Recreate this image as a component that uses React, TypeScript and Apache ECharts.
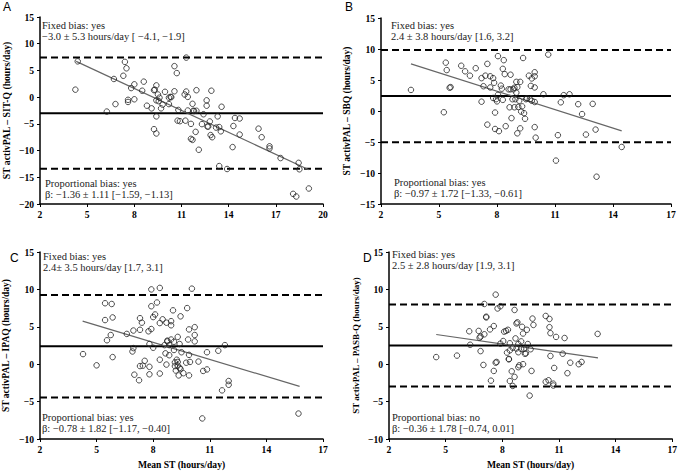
import React, { useEffect, useRef } from "react";
import * as echarts from "echarts";

// ---------- data ----------
const xTicksA = [2, 5, 8, 11, 14, 17, 20];
const xTicksOther = [2, 5, 8, 11, 14, 17];

const pointsA: number[][] = [
  [4.4, 6.7], [4.25, 1.4], [6.25, -2.7], [6.7, 3.4], [6.8, -1.3], [7.3, 4.0], [7.4, 6.6], [7.5, 5.4],
  [7.6, -0.5], [7.6, -0.9], [7.8, 1.7], [8.0, 2.4], [8.0, -0.4], [8.5, 1.2], [8.6, 2.9], [8.8, -1.6],
  [9.1, -2.1], [9.25, 1.3], [9.3, 1.4], [9.25, -6.0], [9.4, -6.8], [9.4, -3.6], [9.4, 2.2], [9.4, -0.6],
  [9.5, 0.5], [9.55, -0.75], [9.6, -0.1], [9.7, -2.1], [9.8, -1.4], [9.95, 1.0], [10.2, -0.1], [10.2, -1.3],
  [10.3, 0.05], [10.35, 0], [10.55, 1.1], [10.55, 5.8], [10.7, 4.5], [10.8, -2.4], [10.75, -4.4], [10.9, -4.5],
  [11.2, 0.5], [11.3, 7.4], [11.25, -4.4], [11.3, 1.05], [11.4, 0.05], [11.4, -2.5], [11.6, -5.0], [11.6, -7.8],
  [11.7, -1.25], [11.75, -2.55], [11.7, -8.0], [11.8, -2.6], [11.95, 1.3], [11.95, -2.55], [11.9, -6.5], [12.1, -9.85],
  [12.3, -5.05], [12.4, -3.2], [12.6, -0.6], [12.6, -1.6], [12.65, -5.5], [12.7, -5.5], [12.8, -4.55], [12.85, -7.1],
  [12.9, 1.2], [12.95, -7.5], [13.2, -5.7], [13.3, -3.6], [13.4, -5.6], [13.5, -6.4], [13.55, -1.8], [13.4, -12.9],
  [13.9, -13.45], [14.25, -9.35], [14.3, -5.4], [14.4, -3.9], [14.7, -4.0], [14.7, -7.0], [15.9, -5.9], [16.1, -7.5],
  [16.6, -9.6], [16.6, -9.2], [17.3, -11.4], [18.1, -18.1], [18.3, -18.6], [18.45, -12.3], [18.5, -13.5], [19.1, -17.1],
];
const regA = [[4.3, 6.7], [19.1, -13.6]];
const meanA = -3.0;
const loaA = [7.4, -13.4];

const pointsB: number[][] = [
  [3.55, 3.4], [5.25, -0.2], [5.35, 7.8], [5.4, 6.6], [5.55, 3.75], [5.6, 3.85], [6.15, 7.3], [6.35, 6.4],
  [6.6, 5.7], [6.9, 6.9], [7.2, 5.3], [7.2, 1.5], [7.3, 4.0], [7.4, 5.7], [7.5, -2.2], [7.5, 7.6],
  [7.65, 5.6], [7.65, 3.8], [7.8, 5.3], [7.85, 4.55], [7.9, -0.25], [7.8, 2.1], [7.9, -2.9], [7.95, 1.9],
  [8.0, 1.55], [8.05, 8.85], [8.05, 2.6], [8.1, -3.25], [8.2, 4.1], [8.25, 3.6], [8.3, 1.8], [8.3, 6.8],
  [8.35, 8.2], [8.4, 5.95], [8.45, -2.45], [8.6, 3.5], [8.65, 0.6], [8.7, 5.85], [8.7, 3.5], [8.75, -1.15],
  [8.8, 1.9], [8.85, 3.5], [8.9, 0.6], [8.9, 3.75], [8.95, 1.9], [9.0, 4.7], [9.0, 2.95], [9.05, 3.85],
  [9.05, -3.6], [9.1, 0.65], [9.15, 1.65], [9.2, 4.7], [9.2, -2.8], [9.25, -0.1], [9.3, 0.75], [9.35, 8.55],
  [9.4, -0.35], [9.45, -1.25], [9.5, 1.9], [9.55, 2.05], [9.65, 5.7], [9.7, 1.9], [9.75, 4.05], [9.8, 5.25],
  [9.8, 1.65], [9.95, 1.45], [9.95, 6.25], [9.95, 5.6], [9.95, 3.8], [9.95, -2.6], [10.0, -4.3], [10.4, 2.7],
  [10.65, 9.1], [11.05, -8.0], [11.15, -3.9], [11.3, 1.4], [11.45, 2.55], [11.75, 2.7], [12.2, 1.1], [12.4, -0.5],
  [12.6, -3.8], [12.95, 1.15], [13.1, -3.0], [13.15, -10.6], [14.45, -5.8],
];
const regB = [[3.55, 7.6], [14.45, -3.2]];
const meanB = 2.4;
const loaB = [9.85, -5.05];

const pointsC: number[][] = [
  [4.28, 1.35], [5.0, -0.15], [5.45, 8.15], [5.45, 5.9], [5.55, 3.2], [5.75, 3.9], [5.8, 8.05], [5.85, 6.25],
  [5.85, 0.95], [6.6, 4.05], [6.9, 1.7], [6.95, 4.5], [6.95, 2.15], [7.0, -1.4], [7.25, -2.15], [7.3, 4.6],
  [7.3, 6.15], [7.3, -0.25], [7.4, 5.55], [7.45, -0.2], [7.55, 0.45], [7.75, 4.4], [7.8, -0.35], [7.8, -1.35],
  [7.8, 2.7], [7.9, 7.75], [7.9, 4.7], [7.9, 10.0], [8.0, 2.2], [8.0, 6.3], [8.1, 6.65], [8.2, 8.25],
  [8.35, 5.5], [8.35, 10.2], [8.35, -1.25], [8.35, 0.6], [8.5, 6.0], [8.6, 2.55], [8.65, 1.45], [8.7, 5.55],
  [8.7, -0.05], [8.75, 3.05], [8.75, 3.15], [8.85, 1.2], [8.85, 2.55], [8.95, 5.75], [8.95, 5.2], [8.95, 3.3],
  [9.05, 7.2], [9.1, 3.0], [9.1, 1.9], [9.15, 0.25], [9.15, -0.25], [9.2, -0.85], [9.25, 0.6], [9.3, 3.65],
  [9.3, -0.2], [9.3, 0.3], [9.35, -1.5], [9.4, -0.5], [9.4, 2.7], [9.45, -0.65], [9.45, 6.4], [9.5, 1.6],
  [9.6, -1.2], [9.75, 0.2], [9.8, 7.5], [9.85, 3.3], [9.9, 4.65], [9.9, -1.5], [9.9, 1.25], [9.95, 0.3],
  [10.05, 10.1], [10.2, 3.9], [10.2, 4.95], [10.2, 3.05], [10.4, 0.35], [10.6, -7.25], [10.65, -0.9], [10.85, -0.7],
  [10.85, 1.6], [11.45, 1.8], [11.65, -3.5], [11.8, 2.55], [12.0, -2.25], [12.0, -2.75], [15.7, -6.6],
];
const regC = [[4.26, 5.75], [15.76, -2.97]];
const meanC = 2.4;
const loaC = [9.26, -4.46];

const pointsD: number[][] = [
  [4.5, 0.95], [5.6, 1.15], [6.25, 4.4], [6.3, 2.6], [6.75, 4.45], [6.8, 3.55], [6.85, 3.7], [6.85, 1.75],
  [7.0, -0.1], [7.05, 4.0], [7.05, 8.05], [7.15, 6.25], [7.15, 6.35], [7.35, 4.65], [7.4, -2.2], [7.55, 5.1],
  [7.55, -0.9], [7.65, 0.2], [7.7, 0.3], [7.65, 9.3], [7.75, 7.45], [7.9, 7.75], [7.9, 2.75], [8.05, 3.1],
  [8.1, 4.35], [8.2, 4.45], [8.25, 1.55], [8.3, 4.6], [8.35, 0.7], [8.35, 0.65], [8.4, -2.25], [8.4, 2.8],
  [8.4, 1.85], [8.5, -0.95], [8.55, 2.2], [8.55, -2.9], [8.65, -1.7], [8.65, 7.25], [8.7, 3.45], [8.75, 2.1],
  [8.75, 5.45], [8.8, 5.6], [8.85, 1.6], [8.85, 2.7], [8.85, -0.4], [8.9, -0.15], [9.0, 3.05], [9.0, 2.05],
  [9.05, 5.0], [9.1, 0.0], [9.1, 4.1], [9.15, 2.05], [9.2, 1.4], [9.25, 1.45], [9.3, 4.6], [9.35, 2.7],
  [9.45, -4.2], [9.5, 2.0], [9.55, -0.9], [9.6, 6.1], [9.65, 5.25], [10.3, 6.45], [10.3, -2.35], [10.45, -2.15],
  [10.5, 4.95], [10.5, 6.05], [10.55, 4.15], [10.55, 1.1], [10.7, -2.6], [10.7, -2.85], [10.75, -0.5], [10.85, 3.65],
  [11.2, 1.4], [11.3, 3.5], [11.45, -1.2], [11.6, 0.2], [12.05, 0.0], [12.2, 0.3], [13.05, 4.05],
];
const regD = [[4.5, 3.97], [13.07, 0.85]];
const meanD = 2.5;
const loaD = [7.99, -2.99];

const yNames = [
  "ST activPAL – SIT-Q (hours/day)",
  "ST activPAL – SBQ (hours/day)",
  "ST activPAL – IPAQ (hours/day)",
  "ST activPAL – PASB-Q (hours/day)",
];
const xName = "Mean ST (hours/day)";
const panelLetters = ["A", "B", "C", "D"];
const fixedLines = [
  ["Fixed bias: yes", "−3.0 ± 5.3 hours/day [ −4.1, −1.9]"],
  ["Fixed bias: yes", "2.4 ± 3.8 hours/day [1.6, 3.2]"],
  ["Fixed bias: yes", "2.4± 3.5 hours/day [1.7, 3.1]"],
  ["Fixed bias: yes", "2.5 ± 2.8 hours/day [1.9, 3.1]"],
];
const propLines = [
  ["Proportional bias: yes", "β: −1.36 ± 1.11 [−1.59, −1.13]"],
  ["Proportional bias: yes", "β: −0.97 ± 1.72 [−1.33, −0.61]"],
  ["Proportional bias: yes", "β: −0.78 ± 1.82 [−1.17, −0.40]"],
  ["Proportional bias: no", "β: −0.36 ± 1.78 [−0.74, 0.01]"],
];

// ---------- layout ----------
const grids = [
  { left: 40, top: 17, width: 283, height: 187 },
  { left: 381, top: 18, width: 290, height: 186 },
  { left: 40, top: 252, width: 283, height: 187 },
  { left: 389, top: 252, width: 284, height: 187 },
];
const xRanges = [[2, 20], [2, 17], [2, 17], [2, 17]];
const yRanges = [[-20, 15], [-15, 15], [-10, 15], [-10, 15]];
const yNameSizes = [9.7, 9.5, 9.5, 9];
const fixedPos = [[42, 25], [391, 25], [43, 256], [392, 254]];
const propPos = [[45, 183], [394, 182], [42, 417], [392, 417]];
const letterPos = [[3, 7], [345, 7], [10, 258], [363, 258]];

const SERIF = '"Liberation Serif", "Times New Roman", serif';
const fmt = (v: number) => (v < 0 ? "−" + Math.abs(v) : String(v));

export default function App() {
  const ref = useRef<HTMLDivElement>(null);
  useEffect(() => {
    if (!ref.current) return;
    const chart = echarts.init(ref.current, null, { renderer: "svg" });
    const pts = [pointsA, pointsB, pointsC, pointsD];
    const regs = [regA, regB, regC, regD];
    const means = [meanA, meanB, meanC, meanD];
    const loas = [loaA, loaB, loaC, loaD];

    const xAxis = grids.map((_, i) => {
      const ticks = i === 0 ? xTicksA : xTicksOther;
      return {
        type: "value",
        gridIndex: i,
        min: xRanges[i][0],
        max: xRanges[i][1],
        name: i >= 2 ? xName : "",
        nameLocation: "middle",
        nameGap: 20,
        nameTextStyle: { fontFamily: SERIF, fontWeight: "bold", fontSize: 9.6, color: "#000" },
        axisLine: { show: true, onZero: false, lineStyle: { color: "#000", width: 1.5 } },
        axisTick: { show: true, length: 3, customValues: ticks, lineStyle: { color: "#000", width: 1 } },
        axisLabel: {
          customValues: ticks,
          color: "#000",
          fontFamily: SERIF,
          fontWeight: "bold",
          fontSize: 9.6,
          margin: 5,
          formatter: (v: number) => fmt(v),
        },
        splitLine: { show: false },
      };
    });

    const yAxis = grids.map((_, i) => ({
      type: "value",
      gridIndex: i,
      min: yRanges[i][0],
      max: yRanges[i][1],
      interval: 5,
      name: yNames[i],
      nameLocation: "middle",
      nameGap: 29,
      nameTextStyle: { fontFamily: SERIF, fontWeight: "bold", fontSize: yNameSizes[i], color: "#000" },
      axisLine: { show: true, onZero: false, lineStyle: { color: "#000", width: 1.5 } },
      axisTick: { show: true, length: 3, lineStyle: { color: "#000", width: 1 } },
      axisLabel: {
        color: "#000",
        fontFamily: SERIF,
        fontWeight: "bold",
        fontSize: 9.6,
        margin: 6,
        formatter: (v: number) => fmt(v),
      },
      splitLine: { show: false },
    }));

    const series: any[] = [];
    grids.forEach((_, i) => {
      const [x0, x1] = xRanges[i];
      const lineBase = { type: "line", xAxisIndex: i, yAxisIndex: i, symbol: "none", silent: true, z: 2 };
      series.push({
        ...lineBase,
        data: [[x0, means[i]], [x1, means[i]]],
        lineStyle: { color: "#000", width: 2 },
      });
      loas[i].forEach((v) => {
        series.push({
          ...lineBase,
          data: [[x0, v], [x1, v]],
          lineStyle: { color: "#000", width: 2, type: [7, 4] },
        });
      });
      series.push({
        ...lineBase,
        data: regs[i],
        lineStyle: { color: "#666", width: 1.2 },
        z: 3,
      });
      series.push({
        type: "scatter",
        xAxisIndex: i,
        yAxisIndex: i,
        data: pts[i],
        symbol: "circle",
        symbolSize: 5.5,
        itemStyle: { color: "rgba(255,255,255,0)", borderColor: "#222", borderWidth: 1 },
        z: 4,
      });
    });

    const textStyle = (text: string, x: number, y: number) => ({
      type: "text",
      x,
      y,
      style: { text, fill: "#222", font: `10.5px ${SERIF}`, verticalAlign: "middle", align: "left" },
    });
    const graphic: any[] = [];
    grids.forEach((_, i) => {
      graphic.push(textStyle(fixedLines[i][0], fixedPos[i][0], fixedPos[i][1]));
      graphic.push(textStyle(fixedLines[i][1], fixedPos[i][0], fixedPos[i][1] + 11));
      graphic.push(textStyle(propLines[i][0], propPos[i][0], propPos[i][1]));
      graphic.push(textStyle(propLines[i][1], propPos[i][0], propPos[i][1] + 11));
      graphic.push({
        type: "text",
        x: letterPos[i][0],
        y: letterPos[i][1],
        style: {
          text: panelLetters[i],
          fill: "#000",
          font: '12px "Liberation Sans", Arial, sans-serif',
          verticalAlign: "middle",
          align: "left",
        },
      });
    });

    chart.setOption({
      animation: false,
      backgroundColor: "#fff",
      grid: grids.map((g) => ({ ...g, containLabel: false })),
      xAxis,
      yAxis,
      series,
      graphic,
    });
    return () => chart.dispose();
  }, []);
  return (
    <div
      ref={ref}
      style={{ position: "fixed", left: 0, top: 0, width: 680, height: 471 }}
    />
  );
}
